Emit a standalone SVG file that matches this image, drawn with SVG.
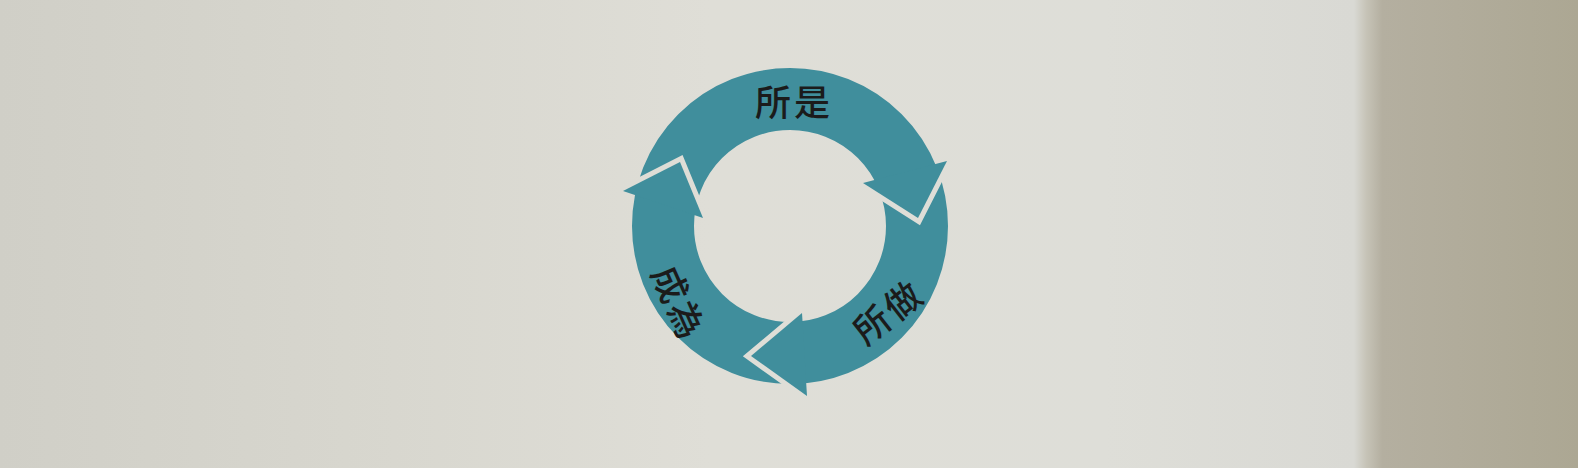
<svg xmlns="http://www.w3.org/2000/svg" width="1578" height="468" viewBox="0 0 1578 468">
  <defs>
    <linearGradient id="paper" gradientUnits="userSpaceOnUse" x1="0" y1="0" x2="1578" y2="0">
      <stop offset="0" stop-color="#d0cfc7"/>
      <stop offset="0.25" stop-color="#d8d7cf"/>
      <stop offset="0.45" stop-color="#dfded7"/>
      <stop offset="0.7" stop-color="#deded8"/>
      <stop offset="0.858" stop-color="#d9d9d4"/>
      <stop offset="0.866" stop-color="#c6c3b7"/>
      <stop offset="0.876" stop-color="#b4afa0"/>
      <stop offset="1" stop-color="#aca793"/>
    </linearGradient>
    <style>
      .ring { fill: none; stroke: #408e9c; stroke-width: 62; }
      .gap { fill: none; stroke: url(#paper); stroke-width: 10; stroke-linejoin: miter; stroke-miterlimit: 10; }
      .head { fill: #408e9c; }
      .label { font-family: "Noto Sans CJK TC", "Noto Sans CJK SC", sans-serif; font-size: 36px; font-weight: 500; fill: #1b1b1b; text-anchor: middle; dominant-baseline: central; letter-spacing: 3px; }
    </style>
  </defs>
  <rect x="0" y="0" width="1578" height="468" fill="url(#paper)"/>
  <g id="connectors">
    <circle class="ring" cx="790" cy="226" r="127"/>
    <g id="arrow-top">
      <polyline class="gap" points="947,161 918,218 863,183"/>
      <polygon class="head" points="947,161 918,218 863,183"/>
    </g>
    <g id="arrow-right">
      <polyline class="gap" points="802,313 751,356 807,396"/>
      <polygon class="head" points="802,313 751,356 807,396"/>
    </g>
    <g id="arrow-left">
      <polyline class="gap" points="623,191 680,162 703,218"/>
      <polygon class="head" points="623,191 680,162 703,218"/>
    </g>
  </g>
  <g id="node-suoshi">
    <text class="label" x="794" y="100">所是</text>
  </g>
  <g id="node-suozuo">
    <text class="label" transform="translate(887,310) rotate(-38)" x="0" y="0">所做</text>
  </g>
  <g id="node-chengwei">
    <text class="label" transform="translate(681,302) rotate(66)" x="0" y="0">成為</text>
  </g>
</svg>
